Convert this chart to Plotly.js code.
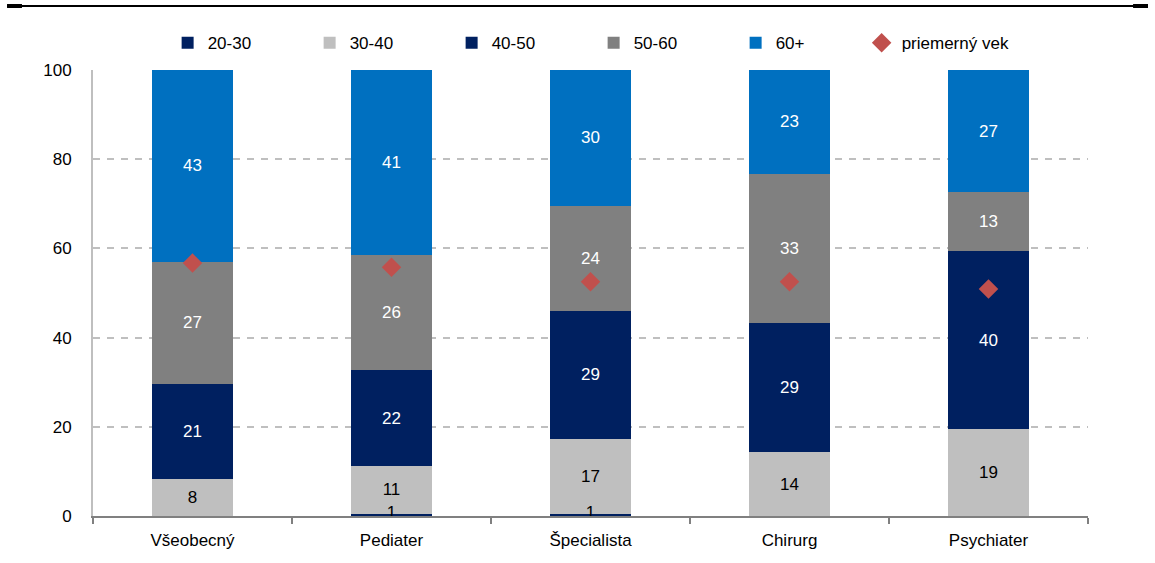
<!DOCTYPE html>
<html>
<head>
<meta charset="utf-8">
<script src="https://cdn.plot.ly/plotly-3.0.1.min.js"></script>
<style>html,body{margin:0;padding:0;background:#fff;}#chart{width:1155px;height:563px;}</style>
</head>
<body>
<div id="chart"></div>
<script>
const categories = ['Všeobecný', 'Pediater', 'Špecialista', 'Chirurg', 'Psychiater'];
const age20_30 = [0, 0.5, 0.5, 0, 0];
const age30_40 = [8.4, 10.7, 16.8, 14.3, 19.4];
const age40_50 = [21.2, 21.5, 28.7, 29.0, 40.0];
const age50_60 = [27.4, 25.9, 23.6, 33.4, 13.2];
const age60plus = [43.0, 41.4, 30.4, 23.3, 27.4];
const avgAge = [56.7, 55.8, 52.5, 52.5, 50.9];
const seriesNames = ['20-30', '30-40', '40-50', '50-60', '60+', 'priemerný vek'];

const colors = ['#002060', '#BFBFBF', '#002060', '#808080', '#0070C0'];
const textColors = ['#000000', '#000000', '#ffffff', '#ffffff', '#ffffff'];
const series = [age20_30, age30_40, age40_50, age50_60, age60plus];
const legendWidths = [97, 97, 97, 97, 81];

const font = 'Arial, "Liberation Sans", sans-serif';
const fs = 17;
const label = v => v ? String(Math.round(v)) : '';

const traces = series.map((vals, i) => ({
  type: 'bar',
  name: seriesNames[i],
  x: categories,
  y: vals,
  width: 0.41,
  legendwidth: legendWidths[i],
  marker: {color: colors[i], line: {width: 0}},
  text: i === 0 ? vals.map(() => '') : vals.map(label),
  textposition: 'inside',
  insidetextanchor: 'middle',
  textangle: 0,
  constraintext: 'none',
  textfont: {family: font, size: fs, color: textColors[i]},
  hoverinfo: 'skip'
}));
// labels of the thin 20-30 segments, drawn at the segment itself
traces.push({
  type: 'scatter',
  mode: 'text',
  x: categories,
  y: age20_30,
  text: age20_30.map(label),
  textposition: 'middle center',
  textfont: {family: font, size: fs, color: '#000'},
  showlegend: false,
  cliponaxis: false,
  hoverinfo: 'skip'
});
traces.push({
  type: 'scatter',
  mode: 'markers',
  name: seriesNames[5],
  x: categories,
  y: avgAge,
  legendwidth: 130,
  marker: {symbol: 'diamond', size: 15, color: '#C0504D'},
  hoverinfo: 'skip'
});

const layout = {
  width: 1155, height: 563,
  margin: {l: 93, r: 67, t: 70, b: 47, autoexpand: false},
  barmode: 'stack',
  paper_bgcolor: '#fff', plot_bgcolor: '#fff',
  font: {family: font, size: fs, color: '#000'},
  showlegend: true,
  legend: {
    orientation: 'h', x: 0.075, y: 1.06, xanchor: 'left', yanchor: 'middle',
    entrywidth: 97, entrywidthmode: 'pixels', itemwidth: 30,
    font: {family: font, size: fs, color: '#000'}, traceorder: 'normal'
  },
  xaxis: {
    range: [-0.5, 4.5],
    showline: true, linecolor: '#808080', linewidth: 2,
    ticks: 'outside', tickson: 'boundaries', ticklen: 6, tickcolor: '#808080', tickwidth: 2,
    ticklabelstandoff: 8,
    tickfont: {family: font, size: fs, color: '#000'},
    showgrid: false, zeroline: false
  },
  yaxis: {
    range: [0, 100], tickvals: [0, 20, 40, 60, 80, 100],
    showline: true, linecolor: '#BFBFBF', linewidth: 2,
    ticks: '', ticklabelstandoff: 16,
    showgrid: true, gridcolor: '#BFBFBF', griddash: '7px,7px', gridwidth: 2,
    zeroline: false,
    tickfont: {family: font, size: fs, color: '#000'}
  },
  shapes: [
    {type: 'line', xref: 'paper', yref: 'paper', x0: -0.0864, x1: 1.0603, y0: 1.1435, y1: 1.1435,
     line: {color: '#000', width: 2}},
    {type: 'line', xref: 'paper', yref: 'paper', x0: -0.0864, x1: -0.0714, y0: 1.1435, y1: 1.1435,
     line: {color: '#000', width: 4}},
    {type: 'line', xref: 'paper', yref: 'paper', x0: 1.0453, x1: 1.0603, y0: 1.1435, y1: 1.1435,
     line: {color: '#000', width: 4}}
  ]
};

Plotly.newPlot('chart', traces, layout, {displayModeBar: false, staticPlot: true});
</script>
</body>
</html>
